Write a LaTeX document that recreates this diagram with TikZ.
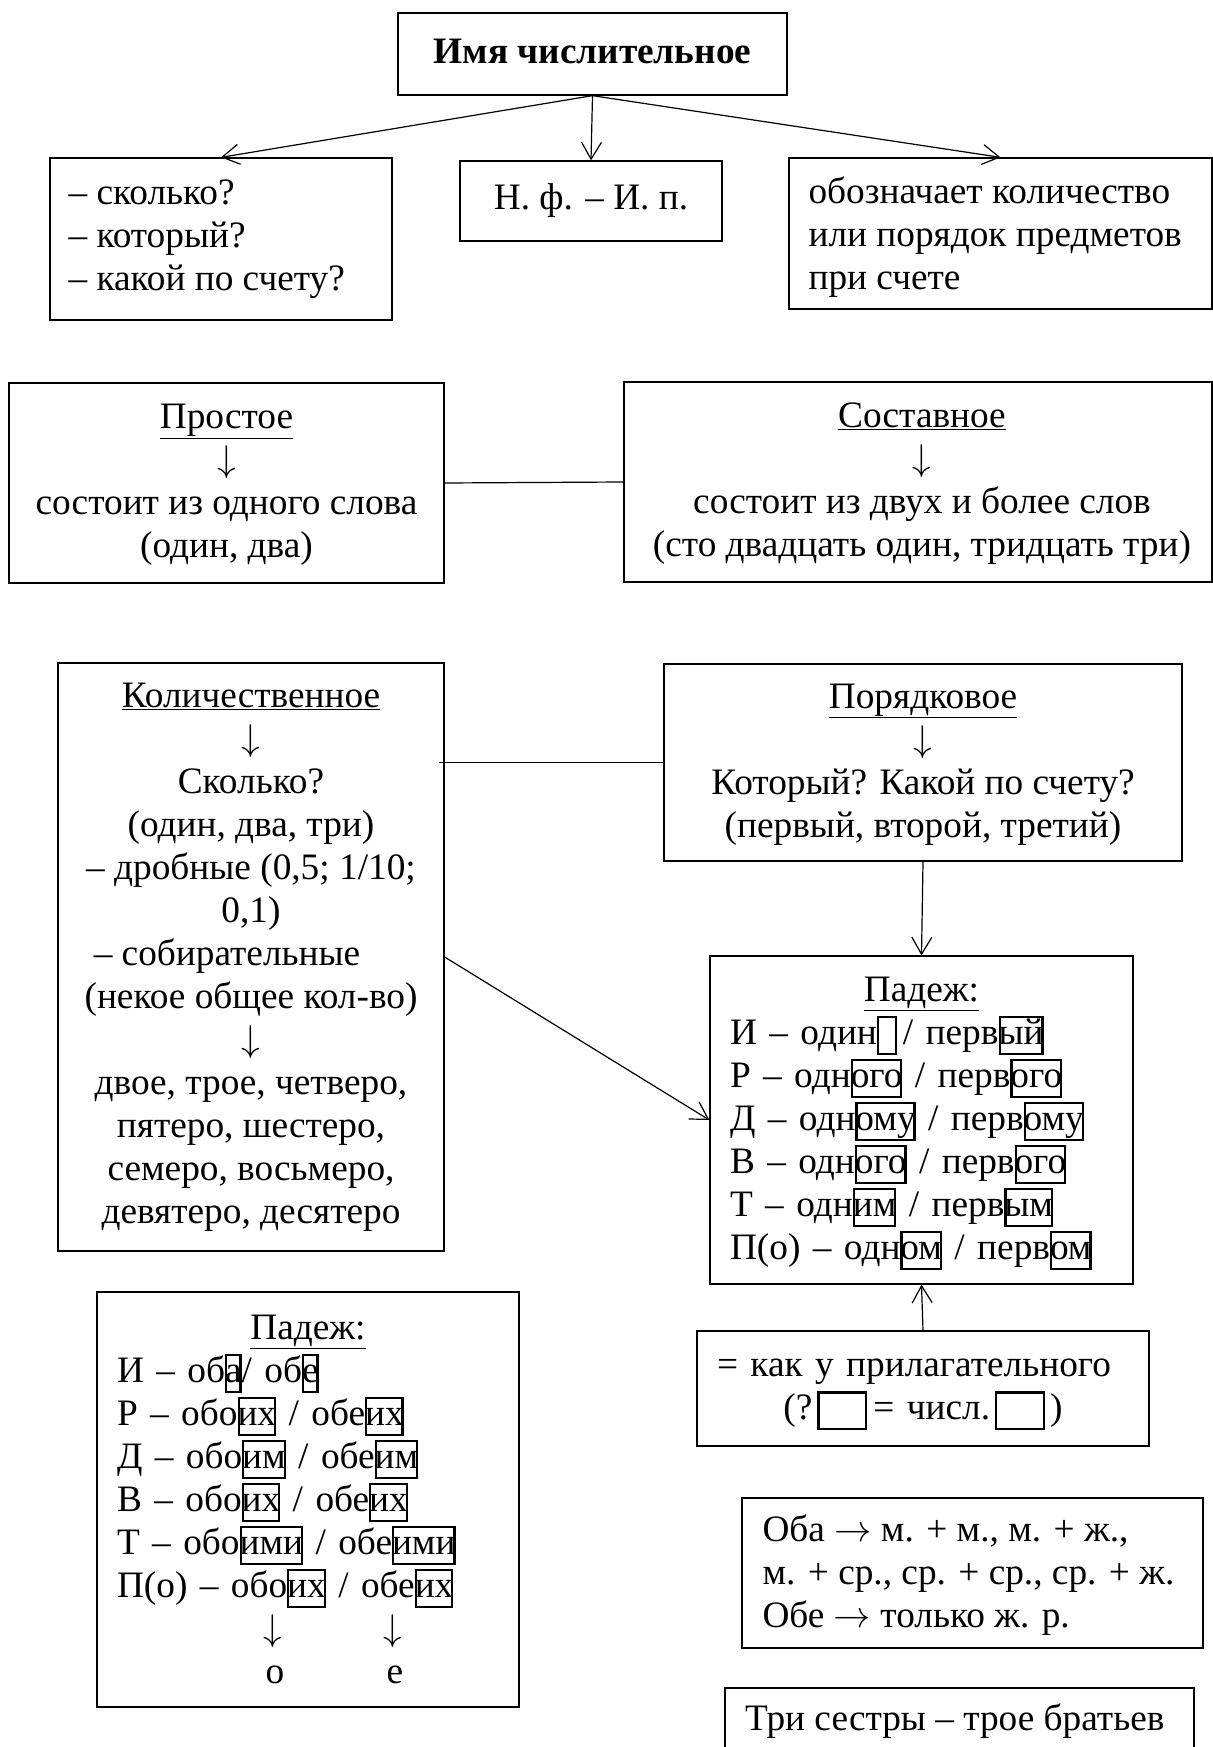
\RequirePackage{fix-cm}
\documentclass[tikz,border=0pt]{standalone}
\usepackage{fontspec}
\setmainfont{Liberation Serif}
\usetikzlibrary{arrows.meta,fit}
\newsavebox\bxsave
\newcommand\bx[1]{\sbox\bxsave{#1}\leavevmode\rlap{\raisebox{-8.2pt}{\setlength\fboxsep{0pt}\setlength\fboxrule{2.2pt}\framebox[\wd\bxsave]{\rule{0pt}{34.3pt}}}}\usebox\bxsave}
\newcommand\ctrline[1]{\hfill#1\hfill\mbox{}}
\newcommand\dn{$\downarrow$}
\newcommand\rt{$\rightarrow$}
\tikzset{
  box/.style={draw, line width=1.3pt, inner sep=0pt},
  txt/.style={inner sep=0pt, font=\fontsize{37.3}{43}\selectfont},
  arr/.style={line width=1.2pt, -{Straight Barb[length=17pt,width=20pt]}},
  ln/.style={line width=1.2pt},
}
\begin{document}
\begin{tikzpicture}[x=1pt,y=-1pt]
\fill[white] (0,0) rectangle (1212,1747);
\useasboundingbox (0,0) rectangle (1212,1747);

% boxes
\node[box, fit={(398,13)(787,95)}] (title) {};
\node[box, fit={(50,158)(392,320)}] (q) {};
\node[box, fit={(460,161)(722,241)}] (nf) {};
\node[box, fit={(789,158)(1212,309)}] (mean) {};
\node[box, fit={(9,383)(444,583)}] (simple) {};
\node[box, fit={(624,382)(1212,582)}] (comp) {};
\node[box, fit={(58,663)(444,1251)}] (kol) {};
\node[box, fit={(664,664)(1182,861)}] (por) {};
\node[box, fit={(710,956)(1133,1284)}] (padR) {};
\node[box, fit={(97,1292)(519,1707)}] (padL) {};
\node[box, fit={(697,1331)(1149,1446)}] (adj) {};
\node[box, fit={(742,1498)(1203,1648)}] (oba) {};
\node[box, fit={(725,1688)(1194,1760)}] (tri) {};

% texts
\node[txt] (titleT) at ([yshift=3pt]title.center) {\textbf{Имя числительное}};
\node[txt, anchor=west, align=left] (qT) at ([xshift=19pt]q.west) {– сколько?\\– который?\\– какой по счету?};
\node[txt] (nfT) at (nf.center) {Н. ф. – И. п.};
\node[txt, anchor=west, align=left] (meanT) at ([xshift=20pt,yshift=-4pt]mean.west) {обозначает количество\\или порядок предметов\\при счете};
\node[txt, align=center] (simpleT) at ([yshift=-2pt]simple.center) {\underline{Простое}\\\dn\\состоит из одного слова\\(один, два)};
\node[txt, align=center] (compT) at ([xshift=4pt,yshift=-2pt]comp.center) {\underline{Составное}\\\dn\\состоит из двух и более слов\\(сто двадцать один, тридцать три)};
\node[txt, align=center] (kolT) at (kol.center) {\underline{Количественное}\\\dn\\Сколько?\\(один, два, три)\\– дробные (0,5; 1/10;\\0,1)\\– собирательные\hspace{48pt}\mbox{}\\(некое общее кол-во)\\\dn\\двое, трое, четверо,\\пятеро, шестеро,\\семеро, восьмеро,\\девятеро, десятеро};
\node[txt, align=center] (porT) at ([yshift=-2pt]por.center) {\underline{Порядковое}\\\dn\\Который? Какой по счету?\\(первый, второй, третий)};
\node[txt, align=left, text width=383pt] (padRT) at ([yshift=-3.5pt]padR.center) {\ctrline{\underline{Падеж:}}\\
И – один\bx{\kern20pt}\kern6pt/ перв\bx{ый}\\
Р – одн\bx{ого} / перв\bx{ого}\\
Д – одн\bx{ому} / перв\bx{ому}\\
В – одн\bx{ого} / перв\bx{ого}\\
Т – одн\bx{им} / перв\bx{ым}\\
П(о) – одн\bx{ом} / перв\bx{ом}};
\node[txt, align=left, text width=382pt] (padLT) at (padL.center) {\ctrline{\underline{Падеж:}}\\
И – об\bx{а}/ об\bx{е}\\
Р – обо\bx{их} / обе\bx{их}\\
Д – обо\bx{им} / обе\bx{им}\\
В – обо\bx{их} / обе\bx{их}\\
Т – обо\bx{ими} / обе\bx{ими}\\
П(о) – обо\bx{их} / обе\bx{их}\\
\hspace*{156pt}\makebox[0pt]{\dn}\hspace*{120pt}\makebox[0pt]{\dn}\\
\hspace*{158pt}\makebox[0pt]{о}\hspace*{120pt}\makebox[0pt]{е}};
\node[txt, align=left, text width=412pt] (adjT) at ([yshift=-6pt]adj.center) {= как у прилагательного\\
\ctrline{(?\kern5pt\bx{\kern50pt}\kern6pt= числ.\kern5pt\bx{\kern50pt}\kern5pt)}};
\node[txt, anchor=west, align=left] (obaT) at ([xshift=21pt,yshift=-2pt]oba.west) {Оба \rt{} м. + м., м. + ж.,\\м. + ср., ср. + ср., ср. + ж.\\Обе \rt{} только ж. р.};
\node[txt, anchor=west] (triT) at (745,1721) {Три сестры – трое братьев};

% connectors
\draw[arr] (title.south) -- (q.north);
\draw[arr] (title.south) -- (nf.north);
\draw[arr] (title.south) -- (mean.north);
\draw[ln] (simple.east) -- (comp.west);
\coordinate (kolE) at ([xshift=-6pt]kol.east);
\draw[ln] (kolE |- por.west) -- (por.west);
\draw[arr] (kol.east) -- (padR.west);
\draw[arr] (por.south) -- (padR.north);
\draw[arr] (adj.north) -- (padR.south);
\end{tikzpicture}
\end{document}
